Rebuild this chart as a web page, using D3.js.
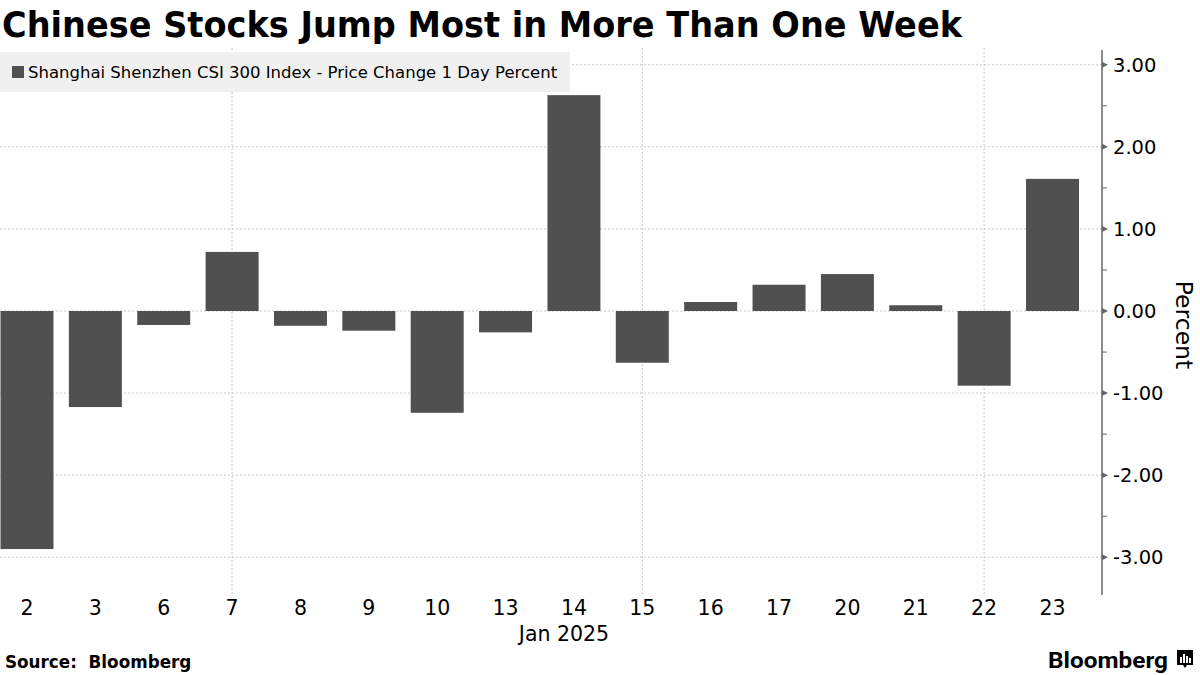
<!DOCTYPE html>
<html><head><meta charset="utf-8">
<script src="https://cdn.jsdelivr.net/npm/d3@7"></script>
<style>
body{margin:0;background:#fff;}
svg{display:block;font-family:"DejaVu Sans",Verdana,sans-serif;}
</style></head>
<body><svg id="c" width="1200" height="675"></svg>
<script>
const categories = ["2","3","6","7","8","9","10","13","14","15","16","17","20","21","22","23"];
const values = [-2.90,-1.17,-0.17,0.72,-0.18,-0.24,-1.24,-0.26,2.63,-0.63,0.11,0.32,0.45,0.07,-0.91,1.61];
const yTicks = [-3,-2,-1,0,1,2,3];
const yMinorTicks = [-2.5,-1.5,-0.5,0.5,1.5,2.5];
const vGridCats = ["7","15","22"];
const title = "Chinese Stocks Jump Most in More Than One Week";
const legendLabel = "Shanghai Shenzhen CSI 300 Index - Price Change 1 Day Percent";
const xAxisSub = "Jan 2025";
const yLabel = "Percent";
const source = "Source:  Bloomberg";

const svg = d3.select("#c");
const barColor = "#505050";
const axisX = 1102, plotTop = 50, plotBottom = 595;

const x = d3.scaleBand().domain(categories).range([0.5, 1079]).paddingInner(0.225).paddingOuter(0);
const y = d3.scaleLinear().domain([-3.46, 3.18]).range([plotBottom, plotTop]);

// title
svg.append("text").attr("x", 2).attr("y", 37).attr("font-size", 36).attr("font-weight", "bold")
  .attr("textLength", 960).attr("lengthAdjust", "spacingAndGlyphs").attr("fill", "#000").text(title);

// grid
const g = svg.append("g");
g.selectAll(".hg").data(yTicks).join("line")
  .attr("x1", 0).attr("x2", axisX).attr("y1", d => y(d)).attr("y2", d => y(d))
  .attr("stroke", "#c8c8c8").attr("stroke-width", 1).attr("stroke-dasharray", "2,2");
g.selectAll(".vg").data(vGridCats).join("line")
  .attr("x1", d => x(d) + x.bandwidth()/2).attr("x2", d => x(d) + x.bandwidth()/2)
  .attr("y1", 48).attr("y2", plotBottom)
  .attr("stroke", "#c8c8c8").attr("stroke-width", 1).attr("stroke-dasharray", "2,2");

// legend
svg.append("rect").attr("x", 0).attr("y", 52).attr("width", 570).attr("height", 40).attr("fill", "#f0f0f0");
svg.append("rect").attr("x", 12).attr("y", 66).attr("width", 12).attr("height", 12).attr("fill", barColor);
svg.append("text").attr("x", 28).attr("y", 78).attr("font-size", 16.5).attr("fill", "#000").text(legendLabel);

// bars
svg.append("g").selectAll("rect").data(values).join("rect")
  .attr("x", (d, i) => x(categories[i]))
  .attr("width", x.bandwidth())
  .attr("y", d => y(Math.max(0, d)))
  .attr("height", d => Math.abs(y(d) - y(0)))
  .attr("fill", barColor);

// y axis
const ya = svg.append("g");
ya.append("line").attr("x1", axisX).attr("x2", axisX).attr("y1", plotTop).attr("y2", plotBottom)
  .attr("stroke", "#666").attr("stroke-width", 1.5);
ya.selectAll(".tri").data(yTicks).join("path")
  .attr("d", d => `M${axisX},${y(d)-3}L${axisX+6},${y(d)}L${axisX},${y(d)+3}Z`).attr("fill", "#666");
ya.selectAll(".mt").data(yMinorTicks).join("line")
  .attr("x1", axisX).attr("x2", axisX + 5).attr("y1", d => y(d)).attr("y2", d => y(d))
  .attr("stroke", "#666").attr("stroke-width", 1);
ya.selectAll(".tl").data(yTicks).join("text")
  .attr("x", 1113).attr("y", d => y(d) + 7).attr("font-size", 19.5).attr("fill", "#000")
  .text(d => (d < 0 ? "-" : "") + d3.format(".2f")(Math.abs(d)));

svg.append("text").attr("transform", "translate(1176,325) rotate(90)").attr("text-anchor", "middle")
  .attr("font-size", 23.5).attr("fill", "#000").text(yLabel);

// x axis labels
svg.append("g").selectAll("text").data(categories).join("text")
  .attr("x", d => x(d) + x.bandwidth()/2).attr("y", 615).attr("text-anchor", "middle")
  .attr("font-size", 20.5).attr("fill", "#000").text(d => d);
svg.append("text").attr("x", 564).attr("y", 641).attr("text-anchor", "middle")
  .attr("font-size", 20.5).attr("fill", "#000").text(xAxisSub);

// footer
svg.append("text").attr("x", 5).attr("y", 668).attr("font-size", 16.8).attr("font-weight", "bold")
  .attr("fill", "#000").style("white-space", "pre").text(source);
svg.append("text").attr("x", 1048).attr("y", 668).attr("font-size", 22)
  .attr("font-weight", "bold").attr("font-family", "Roboto, 'Liberation Sans', sans-serif")
  .attr("textLength", 120).attr("lengthAdjust", "spacingAndGlyphs").attr("fill", "#000").text("Bloomberg");
const logo = svg.append("g").attr("transform", "translate(1177,650)");
logo.append("path").attr("d", "M0,0H16V15H10L8,18L6,15H0Z").attr("fill", "#000");
[[3,7,2,6],[6,4,2,9],[9,6,2,7],[12,8,2,5]].forEach(r =>
  logo.append("rect").attr("x", r[0]).attr("y", r[1]).attr("width", r[2]).attr("height", r[3]).attr("fill", "#fff"));
</script></body></html>
